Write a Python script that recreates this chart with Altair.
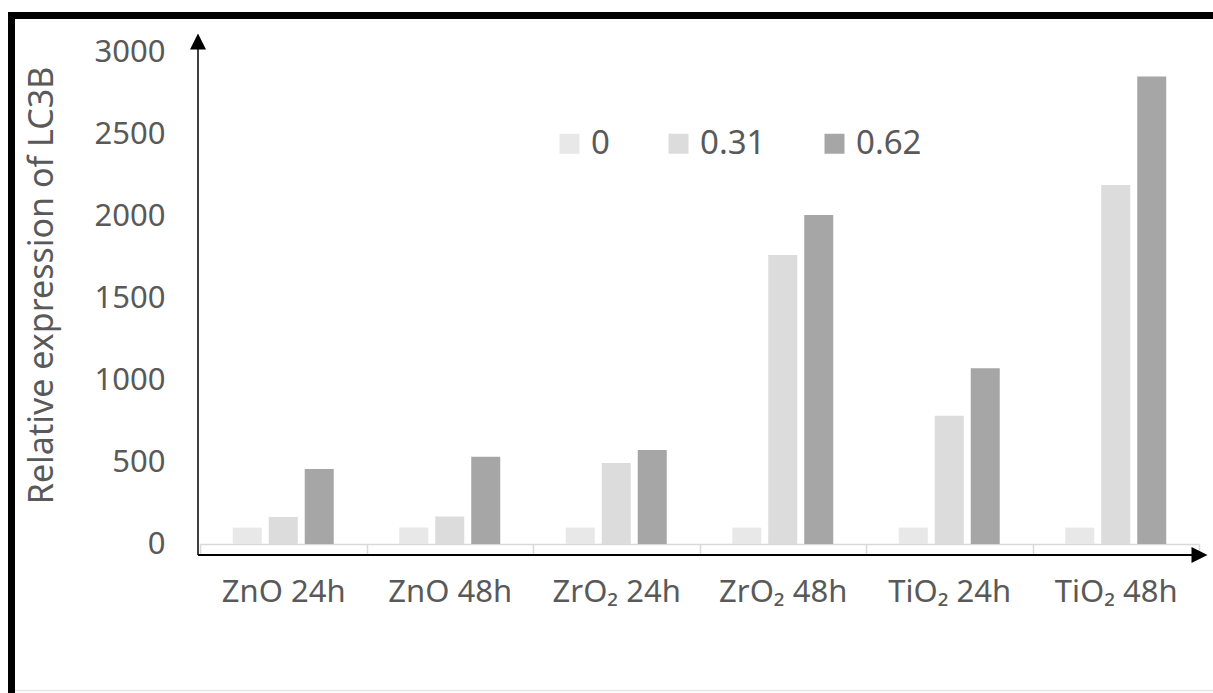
import altair as alt
import pandas as pd

# Sample groups (nanoparticle / exposure time) and dose series
groups = ["ZnO 24h", "ZnO 48h", "ZrO₂ 24h", "ZrO₂ 48h", "TiO₂ 24h", "TiO₂ 48h"]
doses = ["0", "0.31", "0.62"]

# Relative expression of LC3B for each dose
dose_0 = [100, 100, 100, 100, 100, 100]
dose_031 = [165, 167, 494, 1762, 782, 2189]
dose_062 = [457, 532, 573, 2006, 1071, 2850]

dose_colors = ["#e8e8e8", "#dcdcdc", "#a6a6a6"]
y_ticks = [0, 500, 1000, 1500, 2000, 2500, 3000]

rows = []
for dose, vals in zip(doses, [dose_0, dose_031, dose_062]):
    for g, v in zip(groups, vals):
        rows.append({"group": g, "dose": dose, "value": v})
df = pd.DataFrame(rows)

W, H = 999, 492
FONT = "Noto Sans"
GREY = "#595959"

one = alt.Data(values=[{"k": 1}])

bars = alt.Chart(df).mark_bar(strokeWidth=0).encode(
    x=alt.X(
        "group:N",
        sort=groups,
        scale=alt.Scale(paddingInner=0, paddingOuter=0),
        axis=alt.Axis(
            title=None,
            labelAngle=0,
            labelFont=FONT,
            labelFontSize=31,
            labelColor=GREY,
            labelPadding=22,
            domainColor="#d9d9d9",
            domainWidth=1.5,
            tickColor="#d9d9d9",
            tickWidth=1.5,
            tickSize=11,
            tickBand="extent",
        ),
    ),
    xOffset=alt.XOffset(
        "dose:N", sort=doses, scale=alt.Scale(paddingInner=0.194, paddingOuter=0.91)
    ),
    y=alt.Y(
        "value:Q",
        scale=alt.Scale(domain=[0, 3000]),
        axis=alt.Axis(
            values=y_ticks,
            format="d",
            title="Relative expression of LC3B",
            titleFont=FONT,
            titleFontSize=34,
            titleFontWeight="normal",
            titleColor=GREY,
            titleAngle=270,
            titleX=-158,
            titleY=233,
            titleAlign="center",
            titleBaseline="middle",
            labelFont=FONT,
            labelFontSize=31,
            labelColor=GREY,
            labelPadding=35,
            domain=False,
            ticks=False,
            grid=False,
        ),
    ),
    color=alt.Color(
        "dose:N",
        sort=doses,
        scale=alt.Scale(domain=doses, range=dose_colors),
        legend=alt.Legend(
            title=None,
            orient="none",
            direction="horizontal",
            legendX=353,
            legendY=75,
            padding=0,
            symbolType="square",
            symbolSize=400,
            symbolStrokeWidth=0,
            labelFont=FONT,
            labelFontSize=33,
            labelColor=GREY,
            labelOffset=5,
            columnPadding=52,
        ),
    ),
)

# Frame lines around the figure
frame_left = alt.Chart(one).mark_rule(color="black", strokeWidth=7).encode(
    x=alt.value(-188.5), y=alt.value(-40), y2=alt.value(641)
)
frame_top = alt.Chart(one).mark_rule(color="black", strokeWidth=7).encode(
    y=alt.value(-36.5), x=alt.value(-192), x2=alt.value(1013)
)
frame_bottom = alt.Chart(one).mark_rule(color="#e6e6e6", strokeWidth=1.5).encode(
    y=alt.value(638.5), x=alt.value(-185), x2=alt.value(1013)
)

# Arrowed axes
y_arrow = alt.Chart(one).mark_rule(color="black", strokeWidth=1.5).encode(
    x=alt.value(-2), y=alt.value(-10), y2=alt.value(503)
)
y_head = alt.Chart(one).mark_point(
    shape="M0,-1L1,1L-1,1Z", filled=True, color="black", opacity=1, size=256
).encode(x=alt.value(-2), y=alt.value(-10.5))
x_arrow = alt.Chart(one).mark_rule(color="black", strokeWidth=2).encode(
    y=alt.value(503), x=alt.value(-2), x2=alt.value(995)
)
x_head = alt.Chart(one).mark_point(
    shape="M1,0L-1,-1L-1,1Z", filled=True, color="black", opacity=1, size=256
).encode(x=alt.value(999.5), y=alt.value(503))

chart = (
    alt.layer(frame_left, frame_top, frame_bottom, bars, y_arrow, y_head, x_arrow, x_head)
    .properties(
        width=W,
        height=H,
        padding={"left": 200, "top": 52, "right": 14, "bottom": 149},
        autosize=alt.AutoSizeParams(type="none"),
        background="white",
    )
    .configure_view(strokeWidth=0)
)

chart.save("out.html", embed_options={"renderer": "svg", "actions": False})
